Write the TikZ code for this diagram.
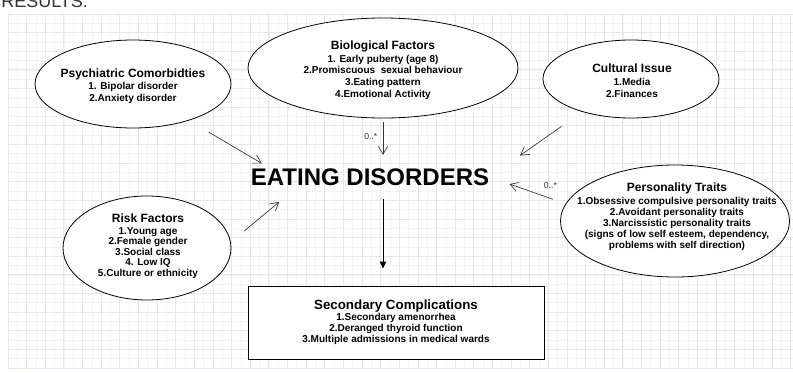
\documentclass[tikz,border=0pt]{standalone}
\usepackage{fontspec}
\setmainfont{Liberation Sans}
\usepackage{tikz}
\usetikzlibrary{shapes.geometric,arrows.meta}
\definecolor{gridlight}{HTML}{F3F3FA}
\definecolor{griddark}{HTML}{E6E6F2}
\definecolor{inkgray}{HTML}{333333}
\newcommand{\bubbletitle}[1]{{\fontsize{9}{11}\selectfont #1}}
\tikzset{
  bubble/.style={ellipse, draw=black, fill=white, line width=0.6pt, inner sep=0pt},
  bubbletext/.style={align=center, inner sep=0pt, font=\bfseries\fontsize{7.5}{8.4}\selectfont},
  arr/.style={draw=inkgray, line width=0.5pt, -{Straight Barb[length=6pt,width=7pt]}},
  arrsolid/.style={draw=black, line width=0.6pt, -{Triangle[length=5pt,width=5pt]}},
  lbl/.style={font=\fontsize{6.5}{7}\selectfont, text=inkgray, inner sep=1pt}
}

\begin{document}
\begin{tikzpicture}[x=0.75pt, y=-0.75pt]
\useasboundingbox (0,0) rectangle (793,372);
\fill[white] (0,0) rectangle (793,372);
% grid paper
\foreach \i in {0,...,84}
  \draw[gridlight, line width=0.5pt] ({8+9.316*\i},14) -- ({8+9.316*\i},368);
\foreach \j in {0,...,38}
  \draw[gridlight, line width=0.5pt] (8,{14+9.316*\j}) -- (793,{14+9.316*\j});
\foreach \i in {0,2,...,84}
  \draw[griddark, line width=0.6pt] ({8+9.316*\i},14) -- ({8+9.316*\i},368);
\foreach \j in {0,2,...,38}
  \draw[griddark, line width=0.6pt] (8,{14+9.316*\j}) -- (793,{14+9.316*\j});

\node[anchor=base west, inner sep=0pt, text=inkgray, font=\fontsize{13.5}{14}\selectfont] (head) at (1,7) {RESULTS:};

% bubbles
\node[bubble, minimum width=196*0.75pt, minimum height=88*0.75pt] (psy) at (133,84) {};
\node[bubble, minimum width=270*0.75pt, minimum height=100*0.75pt] (bio) at (383,68) {};
\node[bubble, minimum width=176*0.75pt, minimum height=78*0.75pt] (cul) at (631,79) {};
\node[bubble, minimum width=168*0.75pt, minimum height=104*0.75pt] (risk) at (147,248) {};
\node[bubble, minimum width=229*0.75pt, minimum height=112*0.75pt] (per) at (675,221) {};

\node[bubbletext] (psytxt) at (133,86) {\bubbletitle{Psychiatric Comorbidties}\\[1pt]
1. Bipolar disorder\\
2.Anxiety disorder};
\node[bubbletext, font=\bfseries\fontsize{7.5}{8.8}\selectfont] (biotxt) at (383,70) {\bubbletitle{Biological Factors}\\[1pt]
1. Early puberty (age 8)\\
2.Promiscuous\ \ sexual behaviour\\
3.Eating pattern\\
4.Emotional Activity};
\node[bubbletext, font=\bfseries\fontsize{7.5}{9}\selectfont] (cultxt) at (632,81) {\bubbletitle{Cultural Issue}\\[1pt]
1.Media\\
2.Finances};
\node[bubbletext, font=\bfseries\fontsize{7.5}{7.9}\selectfont] (risktxt) at (148,246) {\bubbletitle{Risk Factors}\\[1pt]
1.Young age\\
2.Female gender\\
3.Social class\\
4. Low IQ\\
5.Culture or ethnicity};
\node[bubbletext, font=\bfseries\fontsize{7.5}{8.4}\selectfont] (pertxt) at (677,217) {\bubbletitle{Personality Traits}\\[1pt]
1.Obsessive compulsive personality traits\\
2.Avoidant personality traits\\
3.Narcissistic personality traits\\
(signs of low self esteem, dependency,\\
problems with self direction)};

% centre and outcome
\node[inner sep=0pt, font=\bfseries\fontsize{18}{20}\selectfont] (ed) at (370,177) {EATING DISORDERS};
\node[draw=black, fill=white, line width=0.6pt, minimum width=296*0.75pt, minimum height=73*0.75pt,
  align=center, font=\bfseries\fontsize{7.5}{8.3}\selectfont] (sec) at (396,322.5)
  {{\fontsize{10}{12}\selectfont Secondary Complications}\\
1.Secondary amenorrhea\\
2.Deranged thyroid function\\
3.Multiple admissions in medical wards};

% connectors
\draw[arr, shorten <=17pt, shorten >=7pt] (psy.-33) -- (ed.175);
\draw[arr, shorten <=3pt, shorten >=10pt] (bio.south) -- (bio.south |- ed.north)
  node[lbl, pos=0.36, left=3pt] (biomult) {0..*};
\draw[arr, shorten <=19pt, shorten >=28pt] (cul.214) -- (ed.east);
\draw[arr, shorten <=10pt, shorten >=16pt] (per.171) -- (ed.east)
  node[lbl, pos=0.2, above=6pt] (permult) {0..*};
\draw[arr, shorten <=13pt, shorten >=19pt] (risk.4) -- (ed.187);
\draw[arrsolid, shorten <=10pt, shorten >=13pt] (ed.south -| bio.south) -- (sec.north -| bio.south);
\end{tikzpicture}
\end{document}
